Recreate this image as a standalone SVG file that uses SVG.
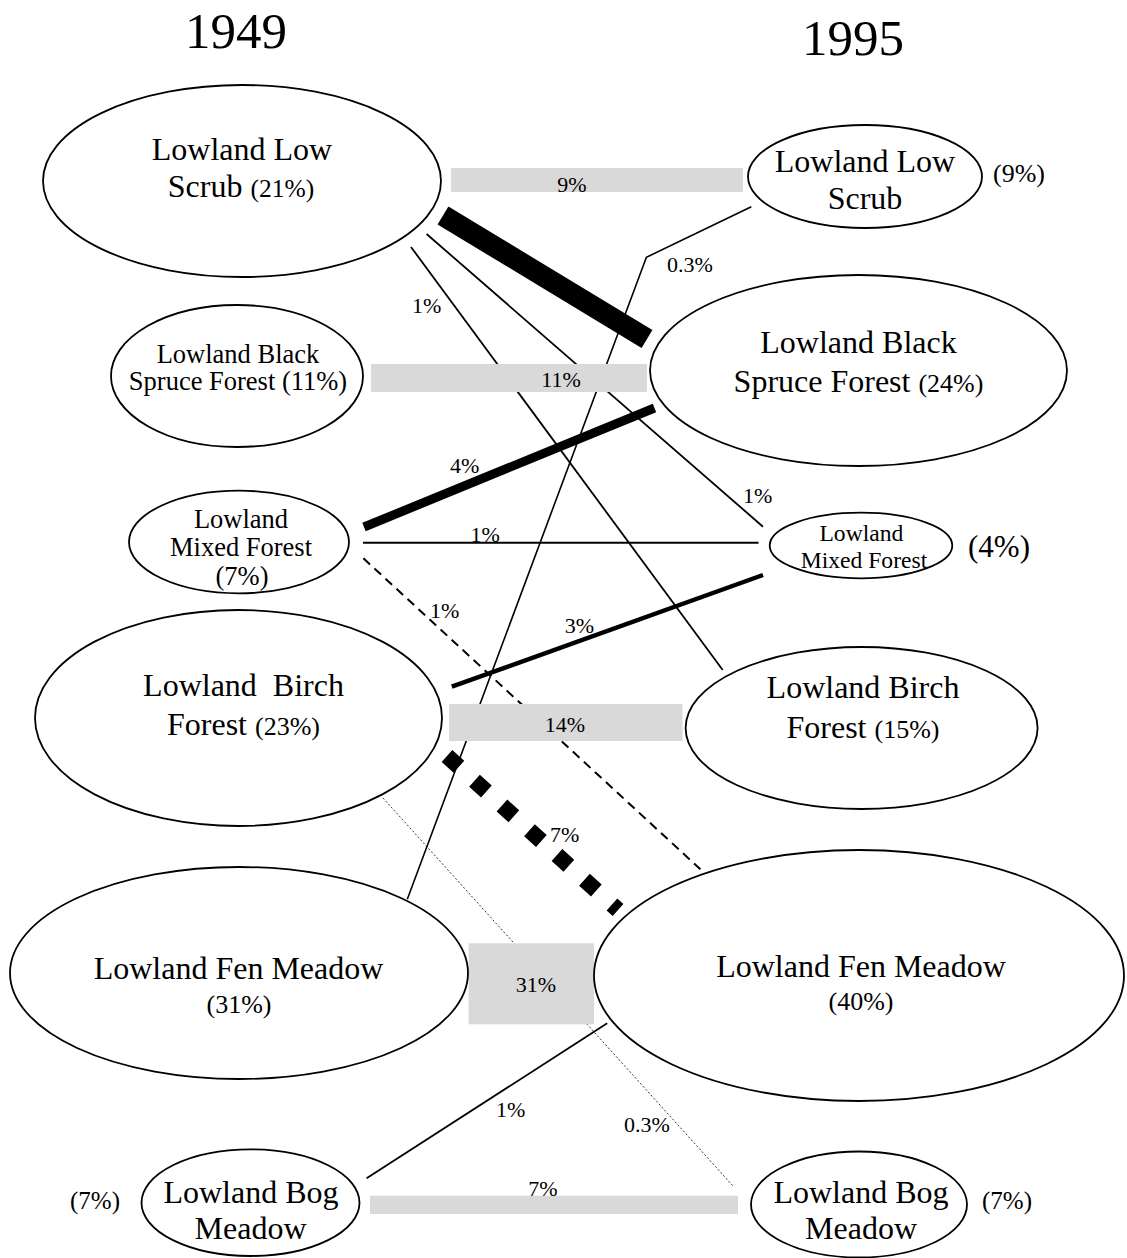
<svg xmlns="http://www.w3.org/2000/svg" width="1127" height="1258" viewBox="0 0 1127 1258">
<style>
text{font-family:"Liberation Serif","Times New Roman",serif;fill:#000}
.t{text-anchor:middle}
.n{fill:#fff;stroke:#000;stroke-width:1.8}
.bar{fill:#d9d9d9}
.lab{font-size:22px}
.c{stroke:#000;fill:none}
.m{font-size:32px}
</style>
<rect width="1127" height="1258" fill="#fff"/>
<text class="t" x="236" y="48" font-size="51">1949</text>
<text class="t" x="853" y="55" font-size="51">1995</text>

<g id="connectors">
<line class="c" x1="443" y1="215.5" x2="647" y2="339" stroke-width="21"/>
<line class="c" x1="411" y1="247" x2="722.7" y2="670" stroke-width="1.8"/>
<line class="c" x1="426.6" y1="234" x2="763" y2="526.7" stroke-width="1.8"/>
<polyline class="c" points="407.3,899.3 646.4,257.3 751.3,206.7" stroke-width="1.6"/>
<line class="c" x1="364" y1="527" x2="654.5" y2="408" stroke-width="9"/>
<line class="c" x1="363" y1="542.7" x2="758.5" y2="542.7" stroke-width="2"/>
<line class="c" x1="363.4" y1="558.3" x2="700.4" y2="869.3" stroke-width="2" stroke-dasharray="9 6"/>
<line class="c" x1="451.8" y1="686.7" x2="763" y2="575" stroke-width="4.5"/>
<line class="c" x1="447" y1="756" x2="618" y2="910" stroke-width="16" stroke-dasharray="16 21"/>
<line class="c" x1="383" y1="798" x2="733" y2="1186" stroke-width="0.8" stroke-dasharray="2 2"/>
<line class="c" x1="366.6" y1="1178.3" x2="607.2" y2="1023.3" stroke-width="1.8"/>
</g>

<g id="flow-bars">
<rect class="bar" x="451" y="168" width="292" height="24"/>
<rect class="bar" x="371" y="364" width="276" height="28"/>
<rect class="bar" x="449" y="704" width="233.5" height="37"/>
<rect class="bar" x="468.6" y="943.3" width="125.4" height="81"/>
<rect class="bar" x="370" y="1195.7" width="368" height="18.3"/>
</g>

<g id="labels" class="lab">
<text class="t" x="572" y="192">9%</text>
<text class="t" x="561" y="387">11%</text>
<text class="t" x="565" y="732">14%</text>
<text class="t" x="536" y="992">31%</text>
<text class="t" x="543" y="1196">7%</text>
<text x="667" y="272">0.3%</text>
<text x="412" y="313">1%</text>
<text x="450" y="473">4%</text>
<text x="470.5" y="542">1%</text>
<text x="743" y="503">1%</text>
<text x="430" y="618">1%</text>
<text x="564.7" y="633">3%</text>
<text x="550" y="842">7%</text>
<text x="496" y="1117">1%</text>
<text x="624" y="1132">0.3%</text>
</g>

<g id="n1949-scrub">
<ellipse class="n" cx="242" cy="181" rx="199" ry="96"/>
<text class="t m" x="242" y="160">Lowland Low</text>
<text class="t m" x="241" y="197">Scrub <tspan font-size="25.5">(21%)</tspan></text>
</g>
<g id="n1995-scrub">
<ellipse class="n" cx="865" cy="176.5" rx="117" ry="51.5"/>
<text class="t m" x="865" y="172">Lowland Low</text>
<text class="t m" x="865" y="209">Scrub</text>
<text x="993" y="182" font-size="26">(9%)</text>
</g>
<g id="n1949-spruce">
<ellipse class="n" cx="237" cy="376" rx="126" ry="71"/>
<text class="t" x="238" y="363" font-size="26.5">Lowland Black</text>
<text class="t" x="238" y="390" font-size="26.5">Spruce Forest (11%)</text>
</g>
<g id="n1995-spruce">
<ellipse class="n" cx="858.5" cy="370.5" rx="208.5" ry="95.5"/>
<text class="t m" x="858.5" y="353">Lowland Black</text>
<text class="t m" x="858.5" y="392">Spruce Forest <tspan font-size="26">(24%)</tspan></text>
</g>
<g id="n1949-mixed">
<ellipse class="n" cx="239" cy="542" rx="110" ry="51.3"/>
<text class="t" x="241" y="528" font-size="26.5">Lowland</text>
<text class="t" x="241" y="556" font-size="26.5">Mixed Forest</text>
<text class="t" x="242" y="585" font-size="26.5">(7%)</text>
</g>
<g id="n1995-mixed">
<ellipse class="n" cx="861" cy="545.5" rx="91.3" ry="32.8"/>
<text class="t" x="861.4" y="541" font-size="23.6">Lowland</text>
<text class="t" x="864" y="568" font-size="23.6">Mixed Forest</text>
<text x="968" y="557" font-size="31">(4%)</text>
</g>
<g id="n1949-birch">
<ellipse class="n" cx="238.5" cy="718" rx="203.5" ry="108"/>
<text class="t m" x="243.5" y="696" style="white-space:pre">Lowland  Birch</text>
<text class="t m" x="243.5" y="735">Forest <tspan font-size="26">(23%)</tspan></text>
</g>
<g id="n1995-birch">
<ellipse class="n" cx="861.6" cy="728" rx="176" ry="81"/>
<text class="t m" x="863" y="698">Lowland Birch</text>
<text class="t m" x="863" y="738">Forest <tspan font-size="26">(15%)</tspan></text>
</g>
<g id="n1949-fen">
<ellipse class="n" cx="239" cy="973" rx="229" ry="106"/>
<text class="t m" x="238.5" y="979">Lowland Fen Meadow</text>
<text class="t" x="239" y="1013" font-size="26">(31%)</text>
</g>
<g id="n1995-fen">
<ellipse class="n" cx="859" cy="975.5" rx="265" ry="125.5"/>
<text class="t m" x="861" y="977">Lowland Fen Meadow</text>
<text class="t" x="861" y="1010" font-size="26">(40%)</text>
</g>
<g id="n1949-bog">
<ellipse class="n" cx="250.5" cy="1202.7" rx="109" ry="53.3"/>
<text class="t m" x="251" y="1203">Lowland Bog</text>
<text class="t m" x="250.5" y="1239">Meadow</text>
<text x="70" y="1209" font-size="25">(7%)</text>
</g>
<g id="n1995-bog">
<ellipse class="n" cx="859" cy="1204.5" rx="108" ry="53"/>
<text class="t m" x="861" y="1203">Lowland Bog</text>
<text class="t m" x="861" y="1239">Meadow</text>
<text x="982" y="1209" font-size="25">(7%)</text>
</g>
</svg>
